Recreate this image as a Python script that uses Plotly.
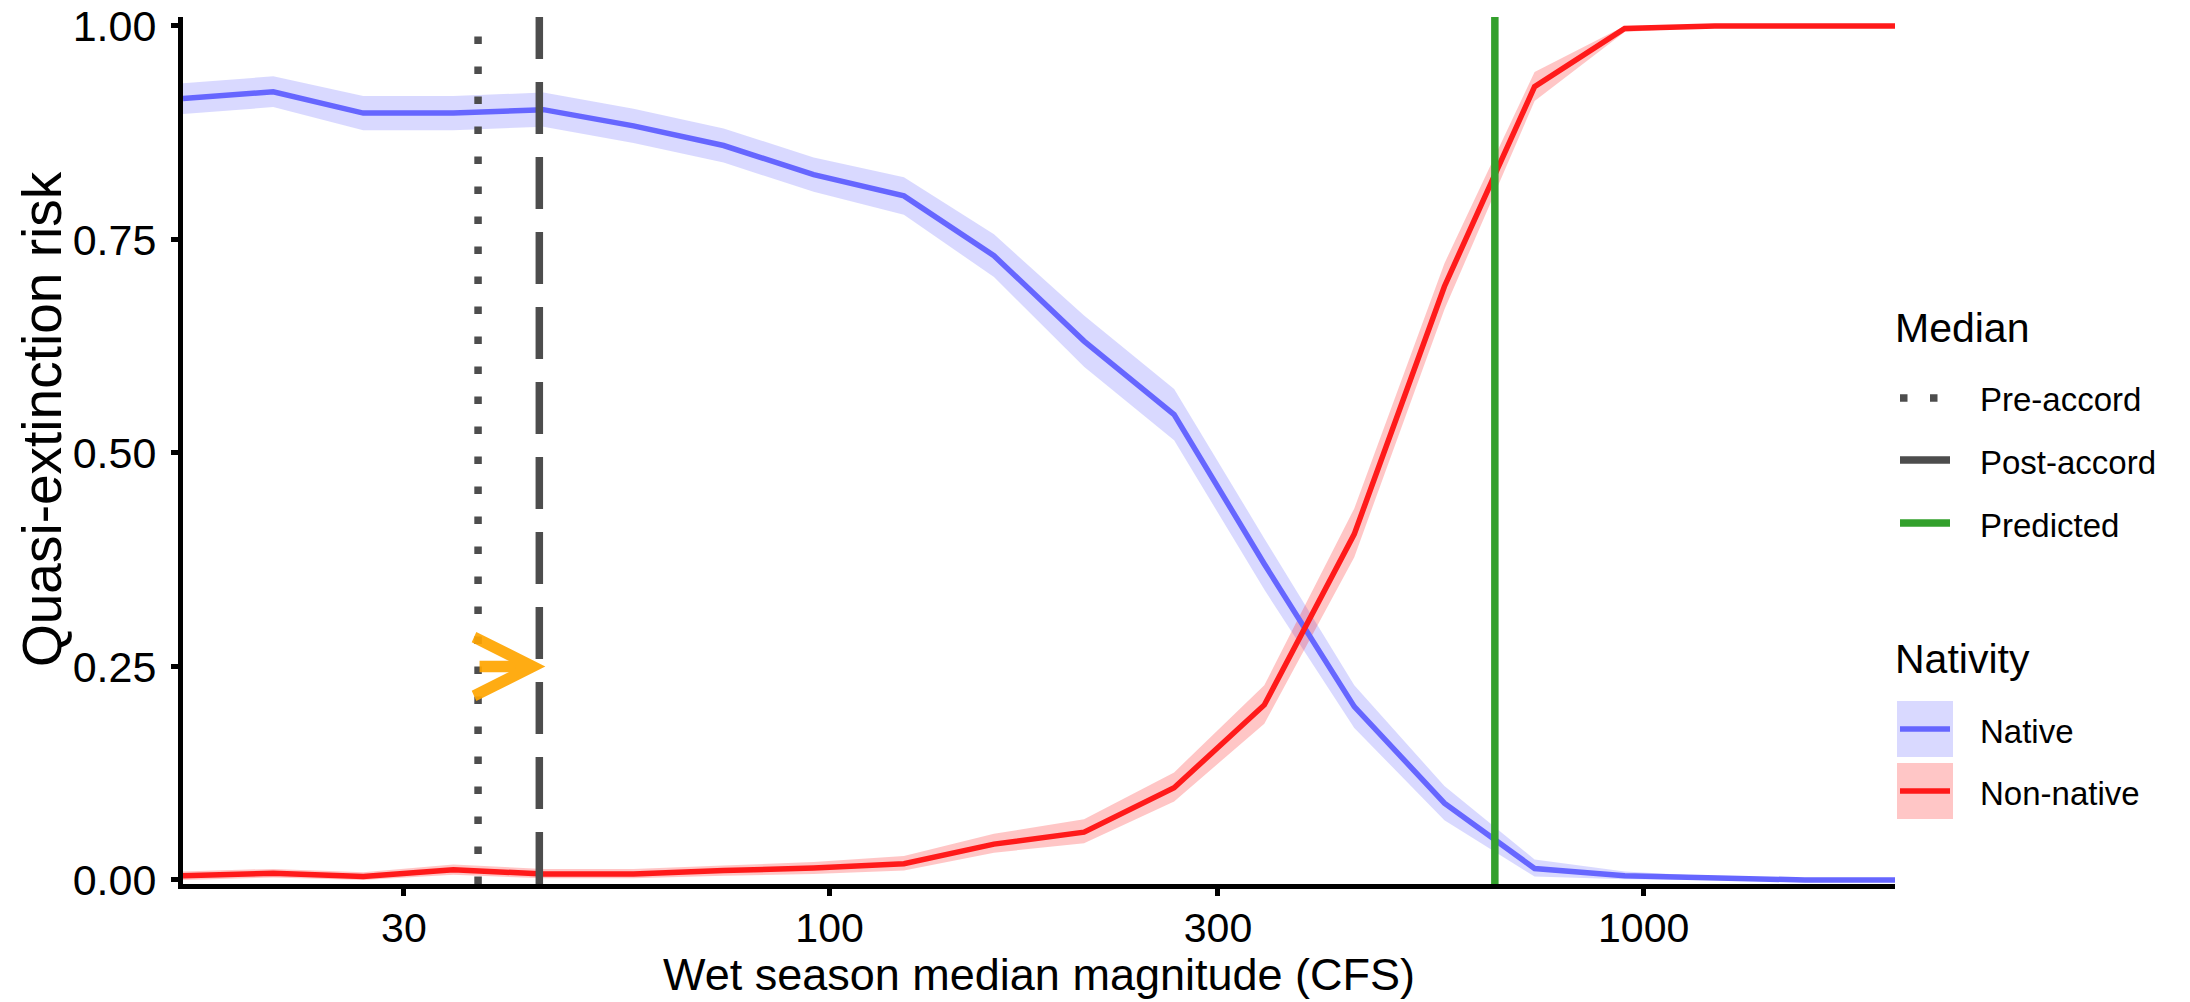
import math
import plotly.graph_objects as go

# ---------------- data ----------------
flow_cfs = [16.06, 20.73, 26.74, 34.50, 44.51, 57.43, 74.10, 95.60, 123.4, 159.2,
            205.4, 265.0, 342.0, 441.1, 569.2, 734.6, 947.8, 1223.0, 1578.0, 2036.0]

native_risk = [0.915, 0.923, 0.898, 0.898, 0.902, 0.883, 0.860, 0.826, 0.801, 0.731,
               0.631, 0.545, 0.370, 0.203, 0.090, 0.0135, 0.005, 0.002, 0.0, 0.0]
native_lower = [0.897, 0.905, 0.878, 0.878, 0.882, 0.863, 0.840, 0.806, 0.779, 0.706,
                0.601, 0.515, 0.340, 0.178, 0.070, 0.004, 0.001, 0.0, 0.0, 0.0]
native_upper = [0.933, 0.941, 0.918, 0.918, 0.922, 0.903, 0.880, 0.846, 0.823, 0.756,
                0.661, 0.575, 0.400, 0.228, 0.110, 0.024, 0.010, 0.004, 0.001, 0.0]

nonnative_risk = [0.005, 0.008, 0.004, 0.012, 0.007, 0.007, 0.011, 0.014, 0.019, 0.042,
                  0.056, 0.108, 0.205, 0.405, 0.695, 0.929, 0.997, 1.0, 1.0, 1.0]
nonnative_lower = [0.0, 0.003, 0.0, 0.006, 0.002, 0.002, 0.005, 0.007, 0.011, 0.032,
                   0.043, 0.092, 0.183, 0.378, 0.668, 0.912, 0.993, 0.999, 1.0, 1.0]
nonnative_upper = [0.010, 0.013, 0.009, 0.018, 0.013, 0.013, 0.017, 0.021, 0.028, 0.054,
                   0.071, 0.126, 0.228, 0.435, 0.722, 0.946, 1.0, 1.0, 1.0, 1.0]

median_names = ["Pre-accord", "Post-accord", "Predicted"]
median_values = [37.0, 44.0, 656.5]
arrow_level = 0.25

x_tick_values = [30, 100, 300, 1000]
x_tick_labels = ["30", "100", "300", "1000"]
y_tick_values = [0.0, 0.25, 0.50, 0.75, 1.00]
y_tick_labels = ["0.00", "0.25", "0.50", "0.75", "1.00"]

nativity_names = ["Native", "Non-native"]
x_title = "Wet season median magnitude (CFS)"
y_title = "Quasi-extinction risk"

# ---------------- styles ----------------
FONT = "Liberation Sans, Arial, sans-serif"
BLUE = "#6666FF"
BLUE_FILL = "rgba(102,102,255,0.25)"
RED = "#FF1A1A"
RED_FILL = "rgba(255,26,26,0.25)"
GREY = "#4D4D4D"
GREEN = "#33A02C"
ORANGE = "rgba(255,165,0,0.92)"

W, H = 2190, 1002
ML, MR, MT, MB = 183, 295, 17, 118
PW, PH = W - ML - MR, H - MT - MB
PX_PER_DECADE = PW / (math.log10(flow_cfs[-1]) - math.log10(flow_cfs[0]))


def px_x(px):
    return (px - ML) / PW


def px_y(py):
    return (MT + PH - py) / PH


fig = go.Figure()

# ribbons
for lo, hi, fc in [(native_lower, native_upper, BLUE_FILL),
                   (nonnative_lower, nonnative_upper, RED_FILL)]:
    fig.add_trace(go.Scatter(
        x=flow_cfs + flow_cfs[::-1], y=hi + lo[::-1], fill="toself",
        fillcolor=fc, line=dict(width=0), mode="lines", showlegend=False,
        hoverinfo="skip"))

# lines
for name, ys, col in [(nativity_names[0], native_risk, BLUE),
                      (nativity_names[1], nonnative_risk, RED)]:
    fig.add_trace(go.Scatter(x=flow_cfs, y=ys, mode="lines", name=name,
                             line=dict(color=col, width=5.5), showlegend=False))

# vertical median lines
median_styles = [dict(color=GREY, width=7.5, dash="7.5px,22.5px"),
                 dict(color=GREY, width=7.5, dash="52px,23px"),
                 dict(color=GREEN, width=7.5)]
for v, st in zip(median_values, median_styles):
    fig.add_shape(type="line", xref="x", yref="paper", x0=v, x1=v, y0=0, y1=1,
                  line=st, layer="above")

# arrow from pre-accord to post-accord (tip pokes a few px past the dashed line)
tip_overshoot = 6 / PX_PER_DECADE
fig.add_annotation(x=math.log10(median_values[1]) + tip_overshoot, y=arrow_level,
                   ax=math.log10(median_values[0]), ay=arrow_level,
                   xref="x", yref="y", axref="x", ayref="y", text="",
                   showarrow=True, arrowhead=5, arrowsize=1.0, arrowwidth=11.5,
                   arrowcolor=ORANGE, standoff=0)

# axis titles
fig.add_annotation(xref="paper", yref="paper", x=0.5, y=px_y(974),
                   text=x_title, showarrow=False, xanchor="center", yanchor="middle",
                   font=dict(size=45, family=FONT, color="black"))
fig.add_annotation(xref="paper", yref="paper", x=px_x(42), y=px_y(419),
                   text=y_title, showarrow=False, textangle=-90,
                   xanchor="center", yanchor="middle",
                   font=dict(size=55, family=FONT, color="black"))

# ---------------- manual legend ----------------
KX0, KX1 = 1900, 1950
TX = 1978
fig.add_annotation(xref="paper", yref="paper", x=px_x(1893), y=px_y(328),
                   text="Median", showarrow=False, xanchor="left", yanchor="middle",
                   font=dict(size=41, family=FONT, color="black"))
leg_y = [398, 460, 523]
for name, st, y in zip(median_names, median_styles, leg_y):
    fig.add_shape(type="line", xref="paper", yref="paper", x0=px_x(KX0), x1=px_x(KX1),
                  y0=px_y(y), y1=px_y(y), line=st)
    fig.add_annotation(xref="paper", yref="paper", x=px_x(TX), y=px_y(y + 2),
                       text=name, showarrow=False, xanchor="left", yanchor="middle",
                       font=dict(size=33, family=FONT, color="black"))

fig.add_annotation(xref="paper", yref="paper", x=px_x(1893), y=px_y(659),
                   text="Nativity", showarrow=False, xanchor="left", yanchor="middle",
                   font=dict(size=41, family=FONT, color="black"))
nat_y = [729, 791]
for name, y, lc, fc in zip(nativity_names, nat_y, [BLUE, RED], [BLUE_FILL, RED_FILL]):
    fig.add_shape(type="rect", xref="paper", yref="paper", x0=px_x(1897), x1=px_x(1953),
                  y0=px_y(y - 28), y1=px_y(y + 28), line=dict(width=0), fillcolor=fc)
    fig.add_shape(type="line", xref="paper", yref="paper", x0=px_x(KX0), x1=px_x(KX1),
                  y0=px_y(y), y1=px_y(y), line=dict(color=lc, width=5.5))
    fig.add_annotation(xref="paper", yref="paper", x=px_x(TX), y=px_y(y + 2),
                       text=name, showarrow=False, xanchor="left", yanchor="middle",
                       font=dict(size=33, family=FONT, color="black"))

fig.update_layout(
    width=W, height=H,
    margin=dict(l=ML, r=MR, t=MT, b=MB, pad=0),
    plot_bgcolor="white", paper_bgcolor="white",
    showlegend=False,
    font=dict(family=FONT, color="black"),
    xaxis=dict(
        type="log", range=[math.log10(flow_cfs[0]), math.log10(flow_cfs[-1])],
        tickvals=x_tick_values, ticktext=x_tick_labels,
        showline=True, linecolor="black", linewidth=5,
        ticks="outside", ticklen=7, tickwidth=5, tickcolor="black",
        tickfont=dict(size=41, family=FONT, color="black"),
        showgrid=False, zeroline=False, automargin=False, ticklabelstandoff=-3,
    ),
    yaxis=dict(
        range=[-0.0047, 1.0105],
        tickvals=y_tick_values, ticktext=y_tick_labels,
        showline=True, linecolor="black", linewidth=5,
        ticks="outside", ticklen=7, tickwidth=5, tickcolor="black",
        tickfont=dict(size=43, family=FONT, color="black"),
        showgrid=False, zeroline=False, ticklabelstandoff=6, automargin=False,
    ),
)

fig.write_html("out.html")
